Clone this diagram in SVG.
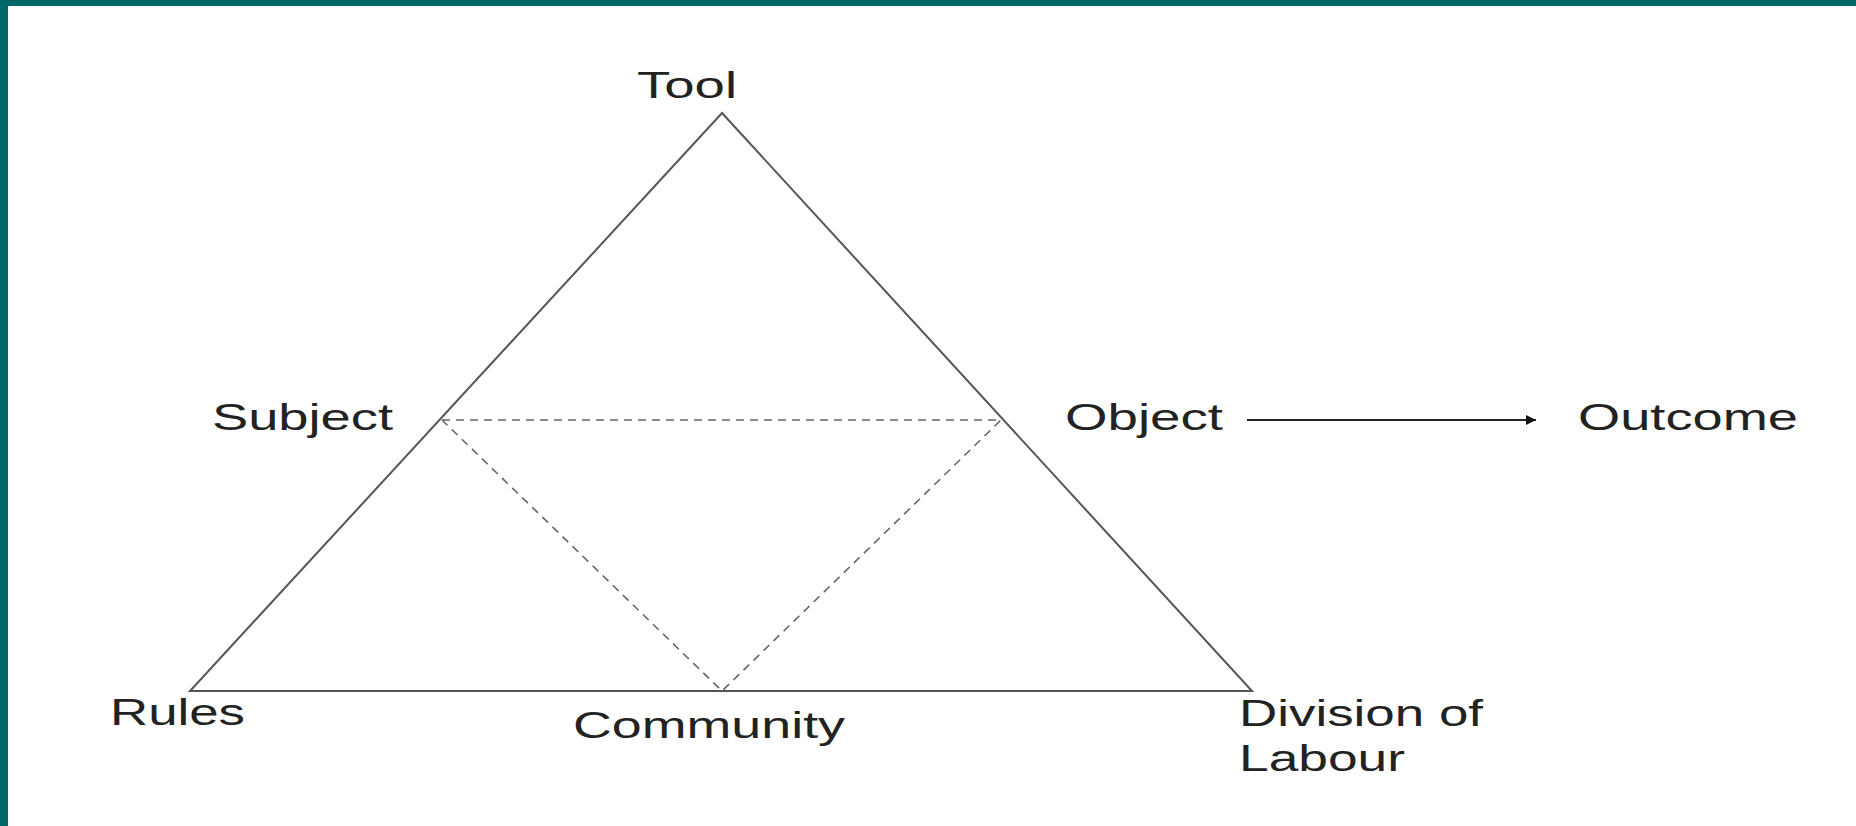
<svg xmlns="http://www.w3.org/2000/svg" width="1856" height="826" viewBox="0 0 1856 826">
  <style>
    .lbl { font-family: "Liberation Sans", Arial, sans-serif; font-size: 36px; fill: #222; }
    .solid { stroke: #555; stroke-width: 2; fill: none; }
    .dash { stroke: #666; stroke-width: 1.6; fill: none; stroke-dasharray: 8 6; }
  </style>
  <defs>
    <marker id="arrow" viewBox="0 0 10 10" refX="10" refY="5" markerWidth="9" markerHeight="5" markerUnits="strokeWidth" orient="auto">
      <path d="M0,0 L10,5 L0,10 z" fill="#111"/>
    </marker>
  </defs>
  <rect x="0" y="0" width="1856" height="826" fill="#ffffff"/>
  <rect x="0" y="0" width="1856" height="6" fill="#006666"/>
  <rect x="0" y="0" width="8" height="826" fill="#006666"/>

  <g id="connectors">
    <polygon class="solid" points="722,113 1252,691 190,691"/>
    <polyline class="dash" points="442,420 1001,420 722,691 442,420"/>
    <line x1="1247" y1="420" x2="1536" y2="420" stroke="#222" stroke-width="2" marker-end="url(#arrow)"/>
  </g>

  <g id="tool"><text class="lbl" x="637" y="98" textLength="100" lengthAdjust="spacingAndGlyphs">Tool</text></g>
  <g id="subject"><text class="lbl" x="212" y="430" textLength="181" lengthAdjust="spacingAndGlyphs">Subject</text></g>
  <g id="object"><text class="lbl" x="1065" y="430" textLength="158" lengthAdjust="spacingAndGlyphs">Object</text></g>
  <g id="outcome"><text class="lbl" x="1578" y="430" textLength="220" lengthAdjust="spacingAndGlyphs">Outcome</text></g>
  <g id="rules"><text class="lbl" x="110" y="725" textLength="135" lengthAdjust="spacingAndGlyphs">Rules</text></g>
  <g id="community"><text class="lbl" x="573" y="738" textLength="272" lengthAdjust="spacingAndGlyphs">Community</text></g>
  <g id="division">
    <text class="lbl" x="1239" y="726" textLength="244" lengthAdjust="spacingAndGlyphs">Division of</text>
    <text class="lbl" x="1239" y="771" textLength="166" lengthAdjust="spacingAndGlyphs">Labour</text>
  </g>
</svg>
